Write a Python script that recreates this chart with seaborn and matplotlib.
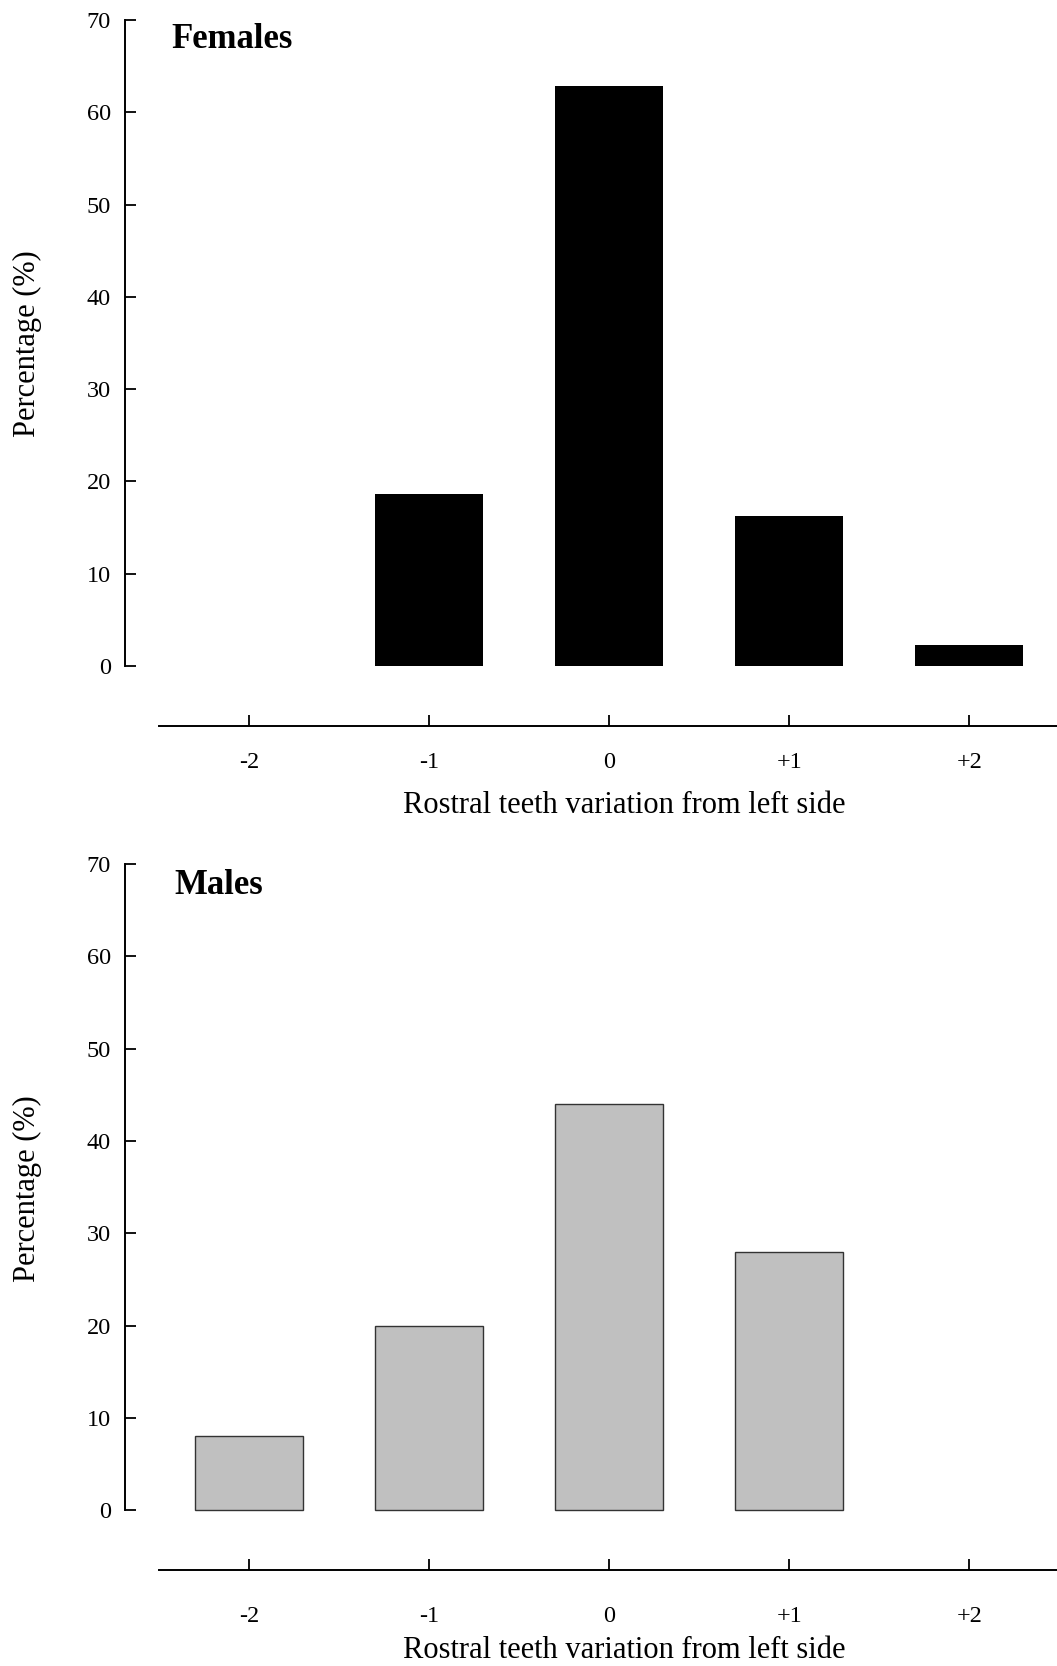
import matplotlib
matplotlib.use("Agg")
import matplotlib.pyplot as plt
import seaborn as sns
import pandas as pd

# Difference in rostral teeth count (right side relative to left side)
variation = ["-2", "-1", "0", "+1", "+2"]
females_pct = [0.0, 18.6, 62.8, 16.3, 2.3]
males_pct = [8.0, 20.0, 44.0, 28.0, 0.0]
y_ticks = [0, 10, 20, 30, 40, 50, 60, 70]

sns.set_style("ticks")
plt.rcParams["font.family"] = ["Liberation Serif", "DejaVu Serif"]
plt.rcParams["axes.linewidth"] = 1.4
plt.rcParams["axes.edgecolor"] = "black"
plt.rcParams["text.color"] = "black"
plt.rcParams["axes.labelcolor"] = "black"
plt.rcParams["xtick.color"] = "black"
plt.rcParams["ytick.color"] = "black"

fig = plt.figure(figsize=(10.57, 16.66), dpi=100)

panels = [
    dict(name="Females", values=females_pct, fill="black", edge="black", lw=0.0,
         rect=[0.1178, 0.5642, 0.8822, 0.4238], pad=19, title_xy=(-0.432, 67.0)),
    dict(name="Males", values=males_pct, fill="#c0c0c0", edge="#333333", lw=1.0,
         rect=[0.1178, 0.0575, 0.8822, 0.4238], pad=26, title_xy=(-0.419, 66.8)),
]

for p in panels:
    ax = fig.add_axes(p["rect"])
    df = pd.DataFrame({"variation": variation, "pct": p["values"]})
    sns.barplot(data=df, x="variation", y="pct", order=variation,
                color=p["fill"], saturation=1, width=0.6,
                edgecolor=p["edge"], linewidth=p["lw"], errorbar=None, ax=ax)
    # empty classes get no outline
    for bar in ax.patches:
        if bar.get_height() == 0:
            bar.set_linewidth(0)

    ax.set_xlim(-0.694, 4.487)
    ax.set_ylim(-6.5, 70)
    ax.spines[["top", "right"]].set_visible(False)
    ax.spines["left"].set_bounds(0, 70)
    ax.spines["bottom"].set_bounds(-0.5, 4.487)
    ax.set_yticks(y_ticks)
    ax.tick_params(axis="both", direction="in", length=8, width=1.3,
                   labelsize=17.5, colors="black")
    ax.tick_params(axis="x", pad=p["pad"])
    ax.tick_params(axis="y", pad=10)

    ax.set_xlabel("Rostral teeth variation from left side", fontsize=22, color="black")
    ax.xaxis.set_label_coords(0.5363, -0.0925)
    ax.set_ylabel("Percentage (%)", fontsize=22, color="black")
    ax.yaxis.set_label_coords(-0.0885, 0.541)

    ax.text(*p["title_xy"], p["name"], fontsize=25, fontweight="bold",
            color="black", ha="left", va="baseline")

fig.savefig("out.png", dpi=100)
